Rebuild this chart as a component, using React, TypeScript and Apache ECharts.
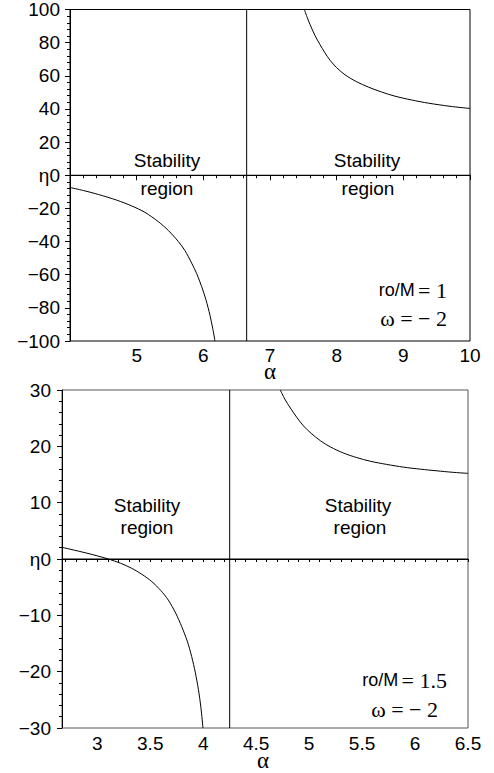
import React, { useEffect, useRef } from "react";
import * as echarts from "echarts";

// ---- Top panel (ro/M = 1, ω = −2) ----
const topLowerAlpha = [4.0, 4.2, 4.425, 4.7, 4.925, 5.125, 5.325, 5.475, 5.625, 5.725, 5.825, 5.9, 5.975, 6.04, 6.1, 6.14, 6.175];
const topLowerEta = [-7.4, -9.2, -11.6, -15.0, -18.5, -22.4, -28.0, -33.3, -40.0, -45.5, -53.0, -59.3, -67.2, -75.2, -84.6, -92.2, -100];
const topUpperAlpha = [7.515, 7.56, 7.6, 7.675, 7.75, 7.825, 7.9, 8.0, 8.125, 8.3, 8.475, 8.675, 8.875, 9.125, 9.375, 9.7, 10.0];
const topUpperEta = [100, 95.0, 91.0, 84.3, 78.8, 73.8, 69.4, 64.9, 60.6, 56.4, 53.2, 50.2, 47.7, 45.4, 43.5, 41.6, 40.3];
const topAsymptote = 6.65;
const topXRange = [4, 10];
const topYRange = [-100, 100];

// ---- Bottom panel (ro/M = 1.5, ω = −2) ----
const botLowerAlpha = [2.667, 2.884, 3.0, 3.105, 3.22, 3.325, 3.42, 3.514, 3.6, 3.671, 3.74, 3.797, 3.85, 3.891, 3.925, 3.955, 3.978, 3.998];
const botLowerEta = [2.07, 1.12, 0.56, 0, -0.75, -1.65, -2.7, -4.0, -5.6, -7.3, -9.6, -12.0, -14.6, -17.3, -20.1, -23.2, -26.3, -30];
const botUpperAlpha = [4.728, 4.77, 4.823, 4.885, 4.948, 5.02, 5.106, 5.2, 5.326, 5.45, 5.578, 5.73, 5.893, 6.05, 6.208, 6.35, 6.5];
const botUpperEta = [30, 28.4, 26.8, 25.1, 23.6, 22.3, 21.0, 19.9, 18.8, 18.0, 17.35, 16.8, 16.3, 15.95, 15.65, 15.4, 15.2];
const botAsymptote = 4.25;
const botXRange = [2.667, 6.5];
const botYRange = [-30, 30];
const botXLabels = [3, 3.5, 4, 4.5, 5, 5.5, 6, 6.5];

const zip = (a: number[], b: number[]) => a.map((v, i) => [v, b[i]]);
const minus = (v: number) => (v < 0 ? "\u2212" + Math.abs(v) : String(v));

const SANS = "'Liberation Sans', Arial, sans-serif";
const SERIF = "'Liberation Serif', 'Times New Roman', serif";

export default function App() {
  const ref = useRef<HTMLDivElement>(null);
  useEffect(() => {
    if (!ref.current) return;
    const chart = echarts.init(ref.current, undefined, { renderer: "svg" });

    const botMinorTicks: number[] = [];
    for (let k = 27; k <= 65; k++) botMinorTicks.push(k / 10);

    const lineStyle = { color: "#000", width: 1 };
    const mkLine = (data: number[][], idx: number, smooth = true) => ({
      type: "line",
      xAxisIndex: idx,
      yAxisIndex: idx,
      data,
      showSymbol: false,
      smooth: smooth ? 0.3 : false,
      lineStyle,
      silent: true,
    });

    const yLabel = {
      color: "#000",
      fontFamily: SANS,
      fontSize: 19,
      margin: 10,
      formatter: (v: number) => (v === 0 ? "\u03B70" : minus(v)),
    };

    const text = (x: number, y: number, t: string) => ({
      type: "text",
      x,
      y,
      style: {
        text: t,
        font: `19px ${SANS}`,
        fill: "#000",
        textAlign: "center",
        textVerticalAlign: "middle",
      },
    });

    const richText = (x: number, y: number, t: string) => ({
      type: "text",
      x,
      y,
      style: {
        text: t,
        fill: "#000",
        textAlign: "right",
        textVerticalAlign: "middle",
        rich: {
          s: { fontFamily: SANS, fontSize: 18, fill: "#000" },
          t: { fontFamily: SERIF, fontSize: 22, fill: "#000" },
        },
      },
    });

    const alpha = (x: number, y: number) => ({
      type: "text",
      x,
      y,
      style: { text: "\u03B1", font: `23px ${SERIF}`, fill: "#000", textAlign: "center", textVerticalAlign: "middle" },
    });

    chart.setOption({
      animation: false,
      backgroundColor: "#fff",
      grid: [
        { left: 70, top: 7, width: 400, height: 334, show: true, borderColor: "#000", borderWidth: 1 },
        { left: 62, top: 390, width: 406, height: 338, show: true, borderColor: "#555", borderWidth: 1 },
      ],
      xAxis: [
        {
          type: "value",
          gridIndex: 0,
          min: topXRange[0],
          max: topXRange[1],
          interval: 1,
          axisLine: { lineStyle: { color: "#000" } },
          axisTick: { length: 5, lineStyle: { color: "#000" } },
          minorTick: { show: true, splitNumber: 5, length: 3, lineStyle: { color: "#000" } },
          splitLine: { show: false },
          axisLabel: { color: "#000", fontFamily: SANS, fontSize: 19, margin: 5, showMinLabel: false },
        },
        {
          type: "value",
          gridIndex: 1,
          min: botXRange[0],
          max: botXRange[1],
          axisLine: { lineStyle: { color: "#000" } },
          axisTick: { length: 3, customValues: botMinorTicks, lineStyle: { color: "#000" } },
          splitLine: { show: false },
          axisLabel: {
            color: "#000",
            fontFamily: SANS,
            fontSize: 19,
            margin: 6,
            customValues: botXLabels,
            formatter: (v: number) => String(v),
          },
        },
      ],
      yAxis: [
        {
          type: "value",
          gridIndex: 0,
          min: topYRange[0],
          max: topYRange[1],
          interval: 20,
          axisLine: { show: true, lineStyle: { color: "#000" } },
          axisTick: { show: true, length: 5, lineStyle: { color: "#000" } },
          minorTick: { show: true, splitNumber: 5, length: 3, lineStyle: { color: "#000" } },
          splitLine: { show: false },
          axisLabel: yLabel,
        },
        {
          type: "value",
          gridIndex: 1,
          min: botYRange[0],
          max: botYRange[1],
          interval: 10,
          axisLine: { show: true, lineStyle: { color: "#000" } },
          axisTick: { show: true, length: 5, lineStyle: { color: "#000" } },
          minorTick: { show: true, splitNumber: 5, length: 3, lineStyle: { color: "#000" } },
          splitLine: { show: false },
          axisLabel: { ...yLabel, margin: 11 },
        },
      ],
      series: [
        mkLine(zip(topLowerAlpha, topLowerEta), 0),
        mkLine(zip(topUpperAlpha, topUpperEta), 0),
        mkLine([[topXRange[0], 0], [topXRange[1], 0]], 0, false),
        mkLine([[topAsymptote, topYRange[0]], [topAsymptote, topYRange[1]]], 0, false),
        mkLine(zip(botLowerAlpha, botLowerEta), 1),
        mkLine(zip(botUpperAlpha, botUpperEta), 1),
        mkLine([[botXRange[0], 0], [botXRange[1], 0]], 1, false),
        mkLine([[botAsymptote, botYRange[0]], [botAsymptote, botYRange[1]]], 1, false),
      ],
      graphic: [
        text(167, 160, "Stability"),
        text(167, 188, "region"),
        text(367, 160, "Stability"),
        text(368, 188, "region"),
        text(147, 505, "Stability"),
        text(147, 527, "region"),
        text(358, 505, "Stability"),
        text(360, 527, "region"),
        richText(447, 290, "{s|ro/M} {t|= 1}"),
        richText(447, 318, "{t|\u03C9 = \u2212 2}"),
        richText(447, 680, "{s|ro/M} {t|= 1.5}"),
        richText(438, 709, "{t|\u03C9 = \u2212 2}"),
        alpha(270, 371),
        alpha(263, 760),
      ],
    });
    return () => chart.dispose();
  }, []);
  return (
    <div
      ref={ref}
      style={{ position: "absolute", left: 0, top: 0, width: 494, height: 773, background: "#fff" }}
    />
  );
}
